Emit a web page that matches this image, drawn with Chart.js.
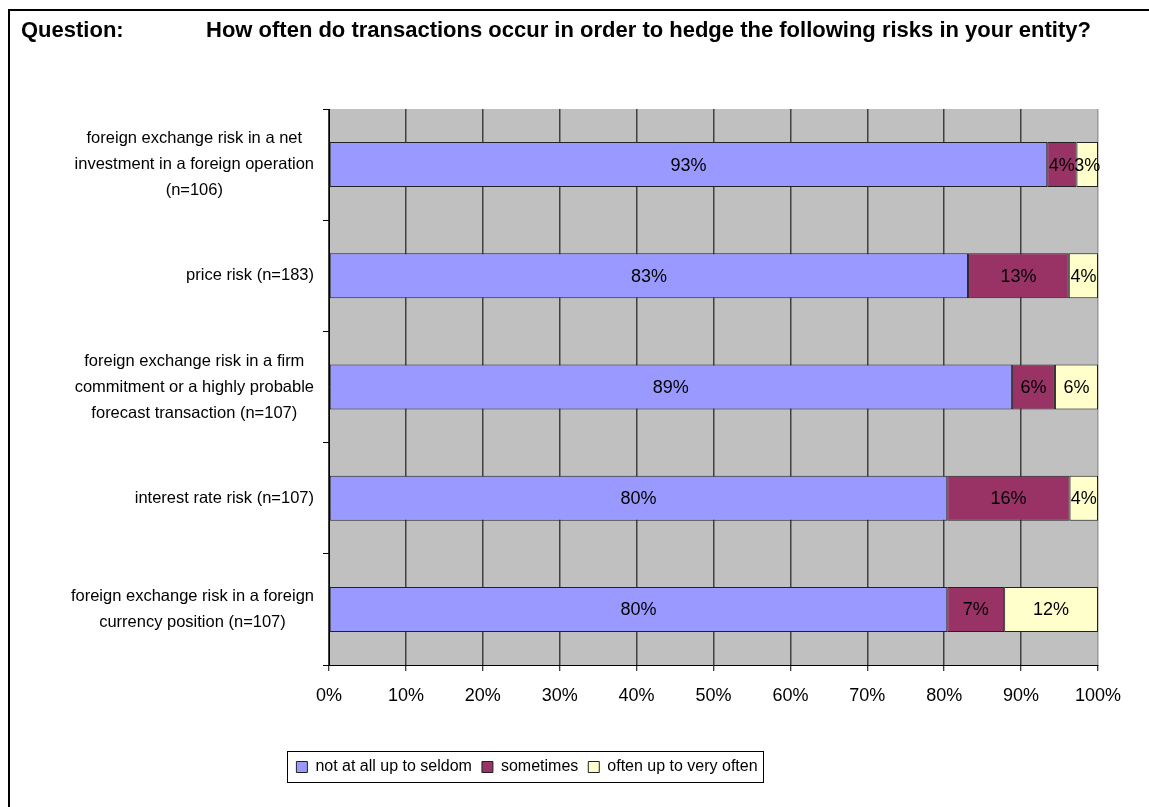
<!DOCTYPE html>
<html>
<head>
<meta charset="utf-8">
<title>Hedging transactions</title>
<script src="https://cdn.jsdelivr.net/npm/chart.js@4.4.0/dist/chart.umd.min.js"></script>
<style>
  html, body { margin: 0; padding: 0; background: #fff; }
  canvas { display: block; }
</style>
</head>
<body>
<canvas id="chart" width="1149" height="807"></canvas>
<script>
// risk categories, top to bottom (each entry = lines of the axis label)
const categories = [
  ['foreign exchange risk in a net', 'investment in a foreign operation', '(n=106)'],
  ['price risk (n=183)'],
  ['foreign exchange risk in a firm', 'commitment or a highly probable', 'forecast transaction (n=107)'],
  ['interest rate risk (n=107)'],
  ['foreign exchange risk in a foreign', 'currency position (n=107)']
];

// share of answers in %, per category
const notAtAll = [93.4, 83.1, 88.8, 80.4, 80.4];
const sometimes = [3.8, 13.1, 5.6, 15.9, 7.4];
const oftenVery = [2.8, 3.8, 5.6, 3.7, 12.2];

const seriesNames = ['not at all up to seldom', 'sometimes', 'often up to very often'];
const seriesColors = ['#9999FF', '#993366', '#FFFFCC'];

const questionLabel = 'Question:';
const questionText = 'How often do transactions occur in order to hedge the following risks in your entity?';

const FONT = '"Liberation Sans", Arial, sans-serif';

// white page, frame lines and the question heading
const headerPlugin = {
  id: 'header',
  beforeDraw(chart) {
    const ctx = chart.ctx;
    ctx.save();
    ctx.fillStyle = '#fff';
    ctx.fillRect(0, 0, chart.width, chart.height);

    ctx.strokeStyle = '#000';
    ctx.lineWidth = 2;
    ctx.beginPath();
    ctx.moveTo(9, chart.height);
    ctx.lineTo(9, 10);
    ctx.lineTo(chart.width, 10);
    ctx.stroke();

    ctx.fillStyle = '#000';
    ctx.font = 'bold 22px ' + FONT;
    ctx.textBaseline = 'middle';
    ctx.textAlign = 'left';
    ctx.fillText(questionLabel, 21, 31);
    ctx.fillText(questionText, 206, 31);

    // grey plot background
    const a = chart.chartArea;
    ctx.fillStyle = '#C0C0C0';
    ctx.fillRect(a.left, a.top, a.right - a.left, a.bottom - a.top);
    ctx.restore();
  }
};

// multi-line category labels: block right-aligned to the axis, lines centred
const categoryLabelPlugin = {
  id: 'categoryLabels',
  afterDraw(chart) {
    const ctx = chart.ctx;
    const yScale = chart.scales.y;
    const rightEdge = chart.chartArea.left - 15;
    const lineH = 26;
    ctx.save();
    ctx.font = '16.5px ' + FONT;
    ctx.fillStyle = '#000';
    ctx.textAlign = 'center';
    ctx.textBaseline = 'middle';
    categories.forEach((lines, i) => {
      const w = Math.max(...lines.map(l => ctx.measureText(l).width));
      const cx = rightEdge - w / 2;
      const cy = yScale.getPixelForValue(i);
      const y0 = cy - (lines.length - 1) * lineH / 2;
      lines.forEach((l, j) => ctx.fillText(l, cx, y0 + j * lineH));
    });
    ctx.restore();
  }
};

// percentage labels in the middle of each segment
const valueLabelPlugin = {
  id: 'valueLabels',
  afterDatasetsDraw(chart) {
    const ctx = chart.ctx;
    ctx.save();
    ctx.font = '18px ' + FONT;
    ctx.fillStyle = '#000';
    ctx.textAlign = 'center';
    ctx.textBaseline = 'middle';
    chart.data.datasets.forEach((ds, di) => {
      chart.getDatasetMeta(di).data.forEach((bar, i) => {
        const v = ds.data[i];
        ctx.fillText(Math.round(v) + '%', (bar.x + bar.base) / 2, bar.y + 1);
      });
    });
    ctx.restore();
  }
};

// move the legend a bit left and put a box round it
const legendBoxPlugin = {
  id: 'legendBox',
  afterLayout(chart) {
    const lg = chart.legend;
    const shift = 527 - (lg.left + lg.right) / 2;
    lg.left += shift;
    lg.right += shift;
  },
  afterDraw(chart) {
    const boxes = chart.legend.legendHitBoxes;
    if (!boxes || !boxes.length) return;
    const left = Math.min(...boxes.map(b => b.left)) - 9;
    const right = Math.max(...boxes.map(b => b.left + b.width)) + 6;
    const top = boxes[0].top - 8;
    const bottom = boxes[0].top + boxes[0].height + 7;
    const ctx = chart.ctx;
    ctx.save();
    ctx.strokeStyle = '#000';
    ctx.lineWidth = 1;
    ctx.strokeRect(Math.round(left) + 0.5, Math.round(top) + 0.5, Math.round(right - left), Math.round(bottom - top));
    ctx.restore();
  }
};

const series = [notAtAll, sometimes, oftenVery];

new Chart(document.getElementById('chart'), {
  type: 'bar',
  data: {
    labels: categories.map(c => c.join(' ')),
    datasets: series.map((data, i) => ({
      label: seriesNames[i],
      data: data,
      backgroundColor: seriesColors[i],
      borderColor: '#222',
      borderWidth: 1,
      borderSkipped: false,
      barPercentage: 0.405,
      categoryPercentage: 1
    }))
  },
  options: {
    indexAxis: 'y',
    responsive: false,
    animation: false,
    devicePixelRatio: 1,
    layout: { padding: { left: 10, right: 51, top: 109, bottom: 22 } },
    scales: {
      x: {
        stacked: true,
        min: 0,
        max: 100,
        ticks: {
          stepSize: 10,
          padding: 14,
          color: '#000',
          font: { family: FONT, size: 18 },
          callback: v => v + '%'
        },
        grid: {
          color: c => (c.index === 10 ? '#9a9a9a' : '#404040'),
          lineWidth: 1.5,
          tickLength: 6,
          tickColor: '#000',
          tickWidth: 1
        },
        border: { color: '#000', width: 1 },
        afterFit: s => { s.height = 84; }
      },
      y: {
        stacked: true,
        ticks: { display: false },
        grid: {
          offset: true,
          drawOnChartArea: false,
          tickLength: 6,
          tickColor: '#000'
        },
        border: { color: '#000', width: 1 },
        afterFit: s => { s.width = 319; }
      }
    },
    plugins: {
      legend: {
        position: 'bottom',
        labels: {
          boxWidth: 11,
          boxHeight: 11,
          padding: 10,
          color: '#000',
          font: { family: FONT, size: 16 }
        }
      },
      tooltip: { enabled: false }
    }
  },
  plugins: [headerPlugin, categoryLabelPlugin, valueLabelPlugin, legendBoxPlugin]
});
</script>
</body>
</html>
